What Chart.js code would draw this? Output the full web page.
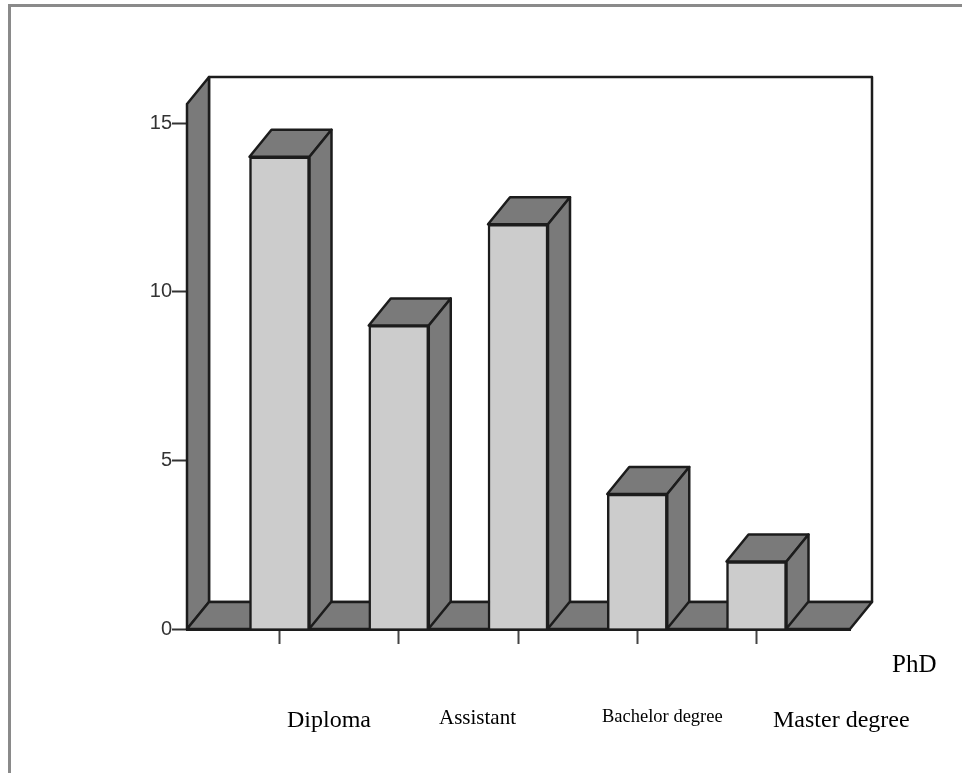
<!DOCTYPE html>
<html>
<head>
<meta charset="utf-8">
<title>Qualification chart</title>
<script src="https://cdn.jsdelivr.net/npm/chart.js@4/dist/chart.umd.min.js"></script>
<style>
  html, body { margin: 0; padding: 0; background: #fff; overflow: hidden; }
  #frame { position: absolute; left: 8px; top: 4px; width: 954px; height: 769px;
           border-left: 3px solid #8a8a8a; border-top: 3px solid #8a8a8a; box-sizing: border-box; }
  #chart { position: absolute; left: 0; top: 0; }
</style>
</head>
<body>
<div id="frame"></div>
<canvas id="chart" width="962" height="773"></canvas>
<script>
// data
const categories = ['Diploma', 'Assistant', 'Bachelor degree', 'Master degree', 'PhD'];
const counts = [14, 9, 12, 4, 2];
const yTicks = [0, 5, 10, 15];

// looks
const dark = '#7a7a7a';
const light = '#cccccc';
const ink = '#1c1c1c';
const depthX = 22;
const depthY = 27;

// the category names sit loose under the axis, each with its own size
const labelStyle = [
  { x: 287, y: 727, size: 24 },
  { x: 439, y: 724, size: 21 },
  { x: 602, y: 722, size: 18.5 },
  { x: 773, y: 727, size: 24 },
  { x: 892, y: 672, size: 25 }
];

function poly(ctx, pts, fill) {
  ctx.beginPath();
  pts.forEach((p, i) => i ? ctx.lineTo(p[0], p[1]) : ctx.moveTo(p[0], p[1]));
  ctx.closePath();
  if (fill) { ctx.fillStyle = fill; ctx.fill(); }
  ctx.stroke();
}

// side wall and floor behind the bars
const box3d = {
  id: 'box3d',
  beforeDatasetsDraw(chart) {
    const { ctx, chartArea: a } = chart;
    ctx.save();
    ctx.strokeStyle = ink;
    ctx.lineWidth = 2.5;
    ctx.lineJoin = 'round';
    poly(ctx, [[a.left + depthX, a.top - depthY], [a.right + depthX, a.top - depthY],
               [a.right + depthX, a.bottom - depthY], [a.left + depthX, a.bottom - depthY]], '#ffffff');
    poly(ctx, [[a.left, a.bottom], [a.left, a.top], [a.left + depthX, a.top - depthY],
               [a.left + depthX, a.bottom - depthY]], dark);
    poly(ctx, [[a.left, a.bottom], [a.right, a.bottom], [a.right + depthX, a.bottom - depthY],
               [a.left + depthX, a.bottom - depthY]], dark);

    // top and side of every bar, taken from the bar elements
    chart.getDatasetMeta(0).data.forEach((bar) => {
      const w = bar.width / 2;
      const l = bar.x - w, r = bar.x + w, t = bar.y, b = bar.base;
      poly(ctx, [[l, t], [r, t], [r + depthX, t - depthY], [l + depthX, t - depthY]], dark);
      poly(ctx, [[r, t], [r + depthX, t - depthY], [r + depthX, b - depthY], [r, b]], dark);
    });
    ctx.restore();
  },
  afterDraw(chart) {
    const { ctx } = chart;
    ctx.save();
    ctx.fillStyle = '#000';
    ctx.textBaseline = 'alphabetic';
    ctx.textAlign = 'left';
    categories.forEach((name, i) => {
      const s = labelStyle[i];
      ctx.font = s.size + 'px "Liberation Serif", serif';
      ctx.fillText(name, s.x, s.y);
    });
    ctx.restore();
  }
};

new Chart(document.getElementById('chart'), {
  type: 'bar',
  plugins: [box3d],
  data: {
    labels: categories,
    datasets: [{
      label: 'Count',
      data: categories.map((c, i) => ({ x: i, y: counts[i] })),
      backgroundColor: light,
      borderColor: ink,
      borderWidth: 2.5,
      barThickness: 60,
      clip: false
    }]
  },
  options: {
    responsive: false,
    animation: false,
    devicePixelRatio: 1,
    layout: { padding: { top: 104, right: 112, left: 0, bottom: 0 } },
    plugins: { legend: { display: false }, tooltip: { enabled: false } },
    scales: {
      x: {
        type: 'linear',
        offset: false,
        min: -0.7757,
        max: 4.784,
        afterBuildTicks(scale) {
          scale.ticks = categories.map((c, i) => ({ value: i }));
        },
        afterFit(scale) { scale.height = 144; },
        ticks: { display: false },
        border: { display: true, color: ink, width: 3 },
        grid: { offset: false, drawOnChartArea: false, drawTicks: true, tickLength: 15, tickWidth: 2, tickColor: '#444' }
      },
      y: {
        min: 0,
        max: 15.565,
        afterBuildTicks(scale) {
          scale.ticks = yTicks.map((v) => ({ value: v }));
        },
        afterFit(scale) { scale.width = 187; },
        ticks: { padding: 0, color: '#333', font: { family: '"Liberation Sans", Arial, sans-serif', size: 20 } },
        border: { display: true, color: ink, width: 3 },
        grid: { drawOnChartArea: false, drawTicks: true, tickLength: 15, tickWidth: 2, tickColor: '#333' }
      }
    }
  }
});
</script>
</body>
</html>
